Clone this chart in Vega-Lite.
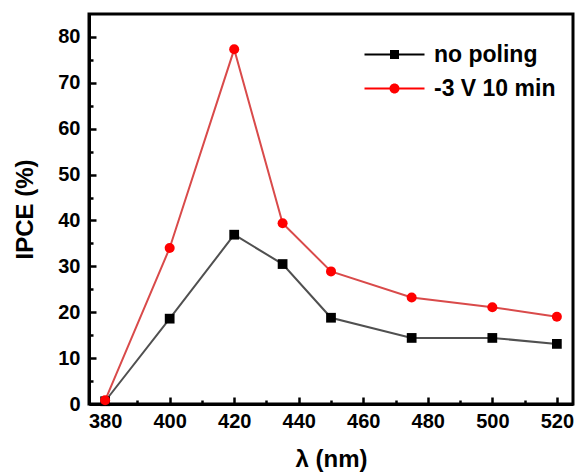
{
  "$schema": "https://vega.github.io/schema/vega-lite/v6.json",
  "width": 484,
  "height": 390,
  "autosize": {"type": "none"},
  "padding": {"left": 89, "top": 14, "right": 4, "bottom": 70},
  "background": "white",
  "config": {
    "view": {"stroke": "black", "strokeWidth": 3},
    "font": "Liberation Sans"
  },
  "data": {
    "values": [
      {"lam": 380, "ipce": 0.6, "series": "no poling"},
      {"lam": 400, "ipce": 18.6, "series": "no poling"},
      {"lam": 420, "ipce": 36.9, "series": "no poling"},
      {"lam": 435, "ipce": 30.5, "series": "no poling"},
      {"lam": 450, "ipce": 18.8, "series": "no poling"},
      {"lam": 475, "ipce": 14.4, "series": "no poling"},
      {"lam": 500, "ipce": 14.4, "series": "no poling"},
      {"lam": 520, "ipce": 13.1, "series": "no poling"},
      {"lam": 380, "ipce": 0.8, "series": "-3 V 10 min"},
      {"lam": 400, "ipce": 34.0, "series": "-3 V 10 min"},
      {"lam": 420, "ipce": 77.3, "series": "-3 V 10 min"},
      {"lam": 435, "ipce": 39.4, "series": "-3 V 10 min"},
      {"lam": 450, "ipce": 28.9, "series": "-3 V 10 min"},
      {"lam": 475, "ipce": 23.2, "series": "-3 V 10 min"},
      {"lam": 500, "ipce": 21.1, "series": "-3 V 10 min"},
      {"lam": 520, "ipce": 19.0, "series": "-3 V 10 min"}
    ]
  },
  "resolve": {"axis": {"x": "independent", "y": "independent"}},
  "layer": [
    {
      "mark": {"type": "line", "strokeWidth": 0, "opacity": 0},
      "encoding": {
        "x": {
          "field": "lam",
          "type": "quantitative",
          "scale": {"domain": [375, 525], "nice": false, "zero": false},
          "axis": {
            "orient": "bottom",
            "title": null,
            "values": [390, 410, 430, 450, 470, 490, 510],
            "labels": false,
            "domain": false,
            "grid": false,
            "tickColor": "black",
            "tickWidth": 2.5,
            "tickSize": 4,
            "offset": -4
          }
        },
        "y": {
          "field": "ipce",
          "type": "quantitative",
          "scale": {"domain": [0, 85], "nice": false, "zero": false},
          "axis": {
            "orient": "left",
            "title": null,
            "values": [5, 15, 25, 35, 45, 55, 65, 75],
            "labels": false,
            "domain": false,
            "grid": false,
            "tickColor": "black",
            "tickWidth": 2.5,
            "tickSize": 4,
            "offset": -4
          }
        }
      }
    },
    {
      "mark": {"type": "line", "strokeWidth": 0, "opacity": 0},
      "encoding": {
        "x": {
          "field": "lam",
          "type": "quantitative",
          "scale": {"domain": [375, 525], "nice": false, "zero": false},
          "axis": {
            "orient": "bottom",
            "title": null,
            "values": [380, 400, 420, 440, 460, 480, 500, 520],
            "labels": false,
            "domain": false,
            "grid": false,
            "tickColor": "black",
            "tickWidth": 2.5,
            "tickSize": 7,
            "offset": -7
          }
        },
        "y": {
          "field": "ipce",
          "type": "quantitative",
          "scale": {"domain": [0, 85], "nice": false, "zero": false},
          "axis": {
            "orient": "left",
            "title": null,
            "values": [0, 10, 20, 30, 40, 50, 60, 70, 80],
            "labels": false,
            "domain": false,
            "grid": false,
            "tickColor": "black",
            "tickWidth": 2.5,
            "tickSize": 7,
            "offset": -7
          }
        }
      }
    },
    {
      "encoding": {
        "x": {
          "field": "lam",
          "type": "quantitative",
          "scale": {"domain": [375, 525], "nice": false, "zero": false},
          "axis": {
            "orient": "bottom",
            "title": "λ (nm)",
            "values": [380, 400, 420, 440, 460, 480, 500, 520],
            "grid": false,
            "ticks": false,
            "domainColor": "black",
            "domainWidth": 3,
            "labelFont": "Liberation Sans",
            "labelFontWeight": "bold",
            "labelFontSize": 20,
            "labelColor": "black",
            "labelPadding": 7,
            "labelFlush": false,
            "labelOverlap": false,
            "titleFont": "Liberation Sans",
            "titleFontWeight": "bold",
            "titleFontSize": 24,
            "titleColor": "black",
            "titlePadding": 16
          }
        },
        "y": {
          "field": "ipce",
          "type": "quantitative",
          "scale": {"domain": [0, 85], "nice": false, "zero": false},
          "axis": {
            "orient": "left",
            "title": "IPCE (%)",
            "values": [0, 10, 20, 30, 40, 50, 60, 70, 80],
            "grid": false,
            "ticks": false,
            "domainColor": "black",
            "domainWidth": 3,
            "labelFont": "Liberation Sans",
            "labelFontWeight": "bold",
            "labelFontSize": 20,
            "labelColor": "black",
            "labelPadding": 9,
            "labelFlush": false,
            "labelOverlap": false,
            "titleFont": "Liberation Sans",
            "titleFontWeight": "bold",
            "titleFontSize": 24,
            "titleColor": "black",
            "titlePadding": 20
          }
        }
      },
      "layer": [
        {
          "mark": {"type": "line", "strokeWidth": 2},
          "encoding": {
            "stroke": {
              "field": "series",
              "type": "nominal",
              "scale": {"domain": ["no poling", "-3 V 10 min"], "range": ["#505050", "#d94a4a"]},
              "legend": {
                "orient": "none",
                "legendX": 294,
                "legendY": 29,
                "title": null,
                "padding": 0,
                "symbolSize": 400,
                "symbolStrokeWidth": 0,
                "labelOffset": 28,
                "labelFont": "Liberation Sans",
                "labelFontSize": 23,
                "labelFontWeight": "bold",
                "labelColor": "black",
                "rowPadding": 10,
                "encode": {
                  "symbols": {
                    "update": {
                      "shape": {"signal": "datum.value === 'no poling' ? 'M-3,-0.1H3V0.1H-3Z M-0.45,-0.45H0.45V0.45H-0.45Z' : 'M-3,-0.1H3V0.1H-3Z M-0.5,0A0.5,0.5 0 1,1 0.5,0A0.5,0.5 0 1,1 -0.5,0Z'"},
                      "fill": {"signal": "datum.value === 'no poling' ? '#000000' : '#ff0000'"},
                      "fillOpacity": {"value": 1},
                      "strokeWidth": {"value": 0}
                    }
                  }
                }
              }
            }
          }
        },
        {
          "transform": [{"filter": "datum.series === 'no poling'"}],
          "mark": {"type": "point", "filled": true, "opacity": 1, "strokeWidth": 0, "shape": "square", "fill": "#000000", "size": 95}
        },
        {
          "transform": [{"filter": "datum.series === '-3 V 10 min'"}],
          "mark": {"type": "point", "filled": true, "opacity": 1, "strokeWidth": 0, "shape": "circle", "fill": "#ff0000", "size": 100}
        }
      ]
    }
  ]
}
